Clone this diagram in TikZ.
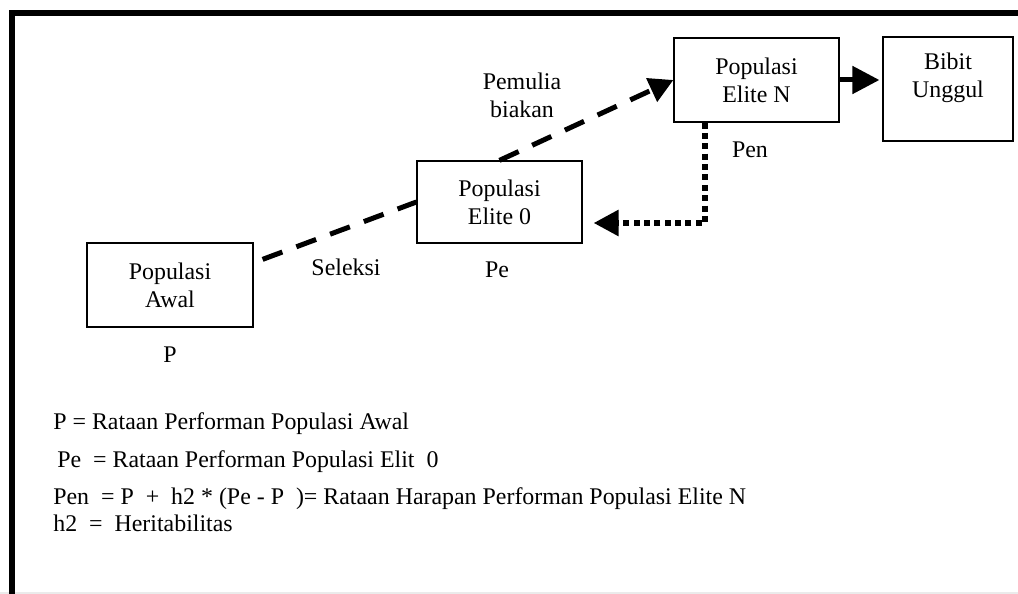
\documentclass[tikz,border=0pt]{standalone}
\usepackage{fontspec}
\setmainfont{Liberation Serif}
\usetikzlibrary{arrows.meta,positioning,calc}

\begin{document}
\begin{tikzpicture}[
    x=0.02cm, y=-0.02cm,
    popbox/.style={
        rectangle,
        draw=black,
        line width=0.7pt,
        align=center,
        inner sep=0pt,
        font=\fontsize{13.6}{16}\selectfont
    },
    tag/.style={
        align=center,
        inner sep=0pt,
        font=\fontsize{13.6}{16}\selectfont
    },
    legend/.style={
        anchor=west,
        inner sep=0pt,
        font=\fontsize{13.6}{16}\selectfont
    },
    dashline/.style={line width=2.85pt, dash pattern=on 12pt off 8.5pt},
    dotline/.style={line width=3.3pt, dash pattern=on 3.4pt off 2.5pt}
]
    \useasboundingbox (0,0) rectangle (1018,594);

    % Frame
    \draw[black!8, line width=0.04cm] (0,593) -- (1018,593);
    \draw[line width=0.12cm, line join=miter] (12,594) -- (12,13) -- (1018,13);

    % Populations
    \node[popbox, minimum width=3.32cm, minimum height=1.68cm] (awal) at (170,285) {Populasi\\Awal};
    \node[popbox, minimum width=3.3cm, minimum height=1.64cm] (elite0) at (499.5,202) {Populasi\\Elite 0};
    \node[popbox, minimum width=3.3cm, minimum height=1.68cm] (eliteN) at (756.5,80) {Populasi\\Elite N};
    \node[popbox, minimum width=2.6cm, minimum height=2.08cm] (bibit) at (948,89) {Bibit\\Unggul\\\mbox{}};

    % Connectors
    \draw[dashline] ([shift={(9,17)}]awal.north east) -- (elite0.west);
    \draw[dashline, -{Triangle[length=0.48cm, width=0.5cm]}] (elite0.north) -- (eliteN.west);
    \draw[dotline, -{Triangle[length=0.5cm, width=0.5cm]}] ([shift={(-51.5,0)}]eliteN.south) |- ([shift={(11,21)}]elite0.east);
    \draw[line width=2.85pt, -{Triangle[length=0.54cm, width=0.54cm]}, shorten >=0.06cm] (eliteN.east) -- (eliteN.east -| bibit.west);

    % Labels
    \node[tag] (seleksi) at (346,267) {Seleksi};
    \node[tag] (pemulia) at (522,95) {Pemulia\\biakan};
    \node[tag] (lblP) at (170,355) {P};
    \node[tag] (lblPe) at (497,270) {Pe};
    \node[tag] (lblPen) at (750,150) {Pen};

    % Legend
    \node[legend] (legP) at (53,424) {P = Rataan Performan Populasi Awal};
    \node[legend] (legPe) at (57,462) {Pe \ = Rataan Performan Populasi Elit \ 0};
    \node[legend] (legPen) at (53,499) {Pen \ = P \ + \ h2 * (Pe - P \ )= Rataan Harapan Performan Populasi Elite N};
    \node[legend] (legH) at (53,523) {h2 \ = \ Heritabilitas};
\end{tikzpicture}
\end{document}
